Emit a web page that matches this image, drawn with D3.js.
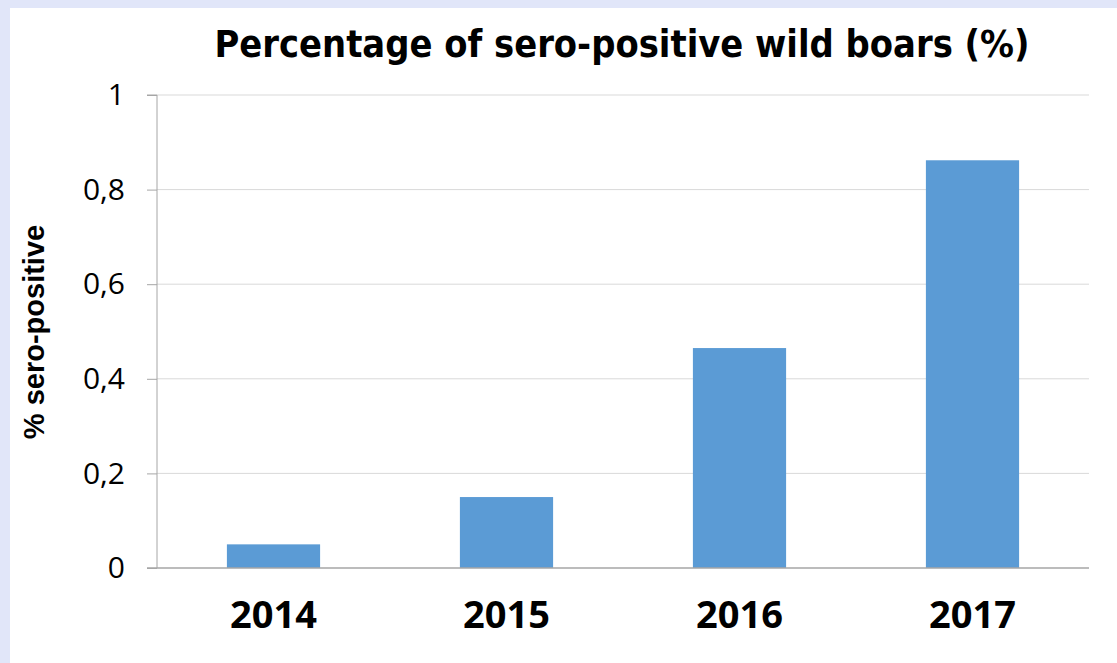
<!DOCTYPE html>
<html lang="en">
<head>
  <meta charset="UTF-8" />
  <title>Percentage of sero-positive wild boars</title>
  <script src="https://d3js.org/d3.v7.min.js"></script>
  <style>
    body { margin: 0; background: #e1e6f9; }
    svg { display: block; }
  </style>
</head>
<body>
  <svg width="1117" height="663"></svg>
  <script>
    const years = ["2014", "2015", "2016", "2017"];
    const seroPositive = [0.05, 0.15, 0.465, 0.862];
    const yTicks = [0, 0.2, 0.4, 0.6, 0.8, 1];

    const svg = d3.select("svg");
    const margin = { left: 157, right: 1089, top: 95, bottom: 568 };

    // white panel over the lavender frame
    svg.append("rect")
      .attr("x", 10).attr("y", 8)
      .attr("width", 1107).attr("height", 655)
      .attr("fill", "#fff");

    const x = d3.scaleBand()
      .domain(years)
      .range([margin.left, margin.right])
      .paddingInner(0.6)
      .paddingOuter(0.3);

    const y = d3.scaleLinear()
      .domain([0, 1])
      .range([margin.bottom, margin.top]);

    // gridlines
    svg.append("g")
      .selectAll("line")
      .data(yTicks.filter(d => d > 0))
      .join("line")
      .attr("x1", margin.left).attr("x2", margin.right)
      .attr("y1", d => y(d)).attr("y2", d => y(d))
      .attr("stroke", "#d9d9d9")
      .attr("stroke-width", 1);

    // y axis
    const yAxis = svg.append("g")
      .attr("transform", `translate(${margin.left},0)`)
      .call(d3.axisLeft(y).tickValues(yTicks).tickSize(10).tickPadding(22)
        .tickFormat(d => d === 0 || d === 1 ? d3.format("d")(d) : d3.format(".1f")(d).replace(".", ",")));
    yAxis.select(".domain").attr("stroke", "#a6a6a6").attr("d", `M-10,${margin.top}H0V${margin.bottom}`);
    yAxis.selectAll(".tick line").attr("stroke", "#a6a6a6");
    yAxis.selectAll(".tick text")
      .attr("fill", "#000")
      .style("font", "30px 'Open Sans', 'Liberation Sans', sans-serif");

    // bars
    svg.append("g")
      .selectAll("rect")
      .data(years.map((yr, i) => ({ yr, v: seroPositive[i] })))
      .join("rect")
      .attr("x", d => x(d.yr))
      .attr("width", x.bandwidth())
      .attr("y", d => y(d.v))
      .attr("height", d => y(0) - y(d.v))
      .attr("fill", "#5b9bd5");

    // x axis baseline
    svg.append("line")
      .attr("x1", margin.left - 10).attr("x2", margin.right)
      .attr("y1", y(0)).attr("y2", y(0))
      .attr("stroke", "#a6a6a6")
      .attr("stroke-width", 1.5);

    // year labels
    svg.append("g")
      .selectAll("text")
      .data(years)
      .join("text")
      .attr("x", d => x(d) + x.bandwidth() / 2)
      .attr("y", 628)
      .attr("text-anchor", "middle")
      .style("font", "bold 38px 'Open Sans', sans-serif")
      .text(d => d);

    // title
    svg.append("text")
      .attr("x", 622).attr("y", 57)
      .attr("text-anchor", "middle")
      .attr("textLength", 815)
      .attr("lengthAdjust", "spacingAndGlyphs")
      .style("font", "bold 37px 'DejaVu Sans Condensed', 'DejaVu Sans', sans-serif")
      .text("Percentage of sero-positive wild boars (%)");

    // y label
    svg.append("text")
      .attr("transform", "translate(44,332) rotate(-90)")
      .attr("text-anchor", "middle")
      .style("font", "bold 29px 'Liberation Sans', Arial, sans-serif")
      .text("% sero-positive");
  </script>
</body>
</html>
